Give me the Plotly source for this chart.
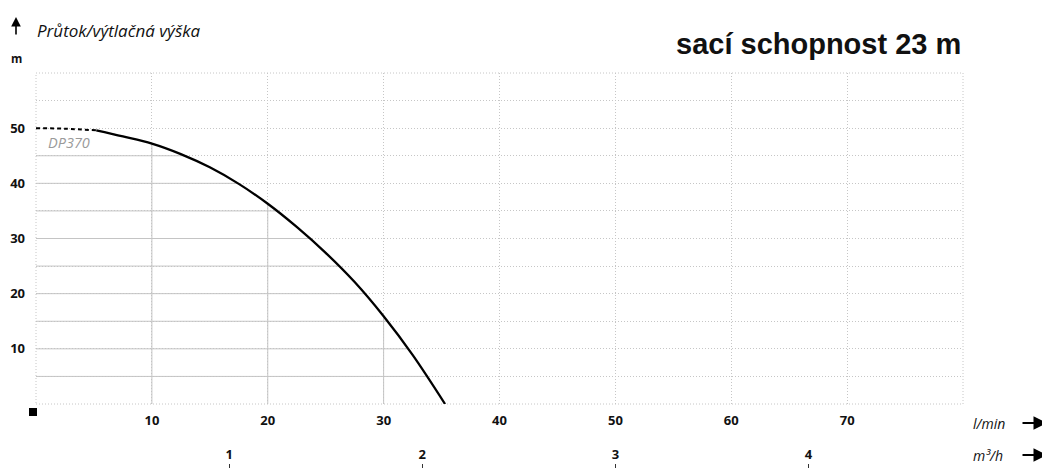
import numpy as np
import plotly.graph_objects as go

# ---- data ----
flow_dashed = [0, 2.5, 5.2]
head_dashed = [50.0, 49.9, 49.6]
flow_curve = [5.2, 7.5, 10, 12.5, 15, 17.5, 20, 22.5, 25, 27.5, 30, 32.5, 35.3]
head_curve = [49.6, 48.5, 47.2, 45.3, 42.9, 39.9, 36.3, 32.1, 27.4, 22.1, 15.9, 8.9, 0.0]
x_ticks = [0, 10, 20, 30, 40, 50, 60, 70, 80]
x_labels = ["", "10", "20", "30", "40", "50", "60", "70", ""]
y_ticks = [0, 10, 20, 30, 40, 50, 60]
y_labels = ["", "10", "20", "30", "40", "50", ""]
m3h_ticks = [1, 2, 3, 4]
m3h_labels = ["1", "2", "3", "4"]
lmin_per_m3h = 1000 / 60
solid_grid_y = [5, 10, 15, 20, 25, 30, 35, 40, 45]
solid_grid_x = [10, 20, 30]
series_name = "DP370"
title_text = "sací schopnost 23 m"

# page has an 8px body margin; positions below are given in page pixels
OFF = 8
W, H = 1050 - OFF, 468 - OFF
plot_left, plot_right, plot_top, plot_bottom = 36, 963, 73, 404
L = plot_left - OFF
T = plot_top - OFF
R = W - (plot_right - OFF)
B = 0
plot_w = W - L - R
plot_h = H - T - B
y_dom0 = (H - (plot_bottom - OFF)) / plot_h


def px(xp, yp):
    return (xp - OFF - L) / plot_w, (H - B - (yp - OFF)) / plot_h


fig = go.Figure()

grid_solid = "#c4c4c4"
grid_dot = "#c6c6c6"
dot_pattern = "1px,2px"
all_x = flow_dashed + flow_curve[1:]
all_y = head_dashed + head_curve[1:]
# solid grid segments under the curve
for yv in solid_grid_y:
    xe = float(np.interp(yv, all_y[::-1], all_x[::-1]))
    fig.add_trace(go.Scatter(x=[0, xe], y=[yv, yv], mode="lines",
                             line=dict(color=grid_solid, width=1),
                             hoverinfo="skip", showlegend=False))
for xv in solid_grid_x:
    ye = float(np.interp(xv, all_x, all_y))
    fig.add_trace(go.Scatter(x=[xv, xv], y=[0, ye], mode="lines",
                             line=dict(color=grid_solid, width=1),
                             hoverinfo="skip", showlegend=False))

fig.add_trace(go.Scatter(x=flow_dashed, y=head_dashed, mode="lines",
                         line=dict(color="black", width=2, dash="4px,3px", shape="spline"),
                         hoverinfo="skip", showlegend=False))
fig.add_trace(go.Scatter(x=flow_curve, y=head_curve, mode="lines", name=series_name,
                         line=dict(color="black", width=2.3, shape="spline", smoothing=1),
                         showlegend=False))
# invisible trace to activate secondary axis
fig.add_trace(go.Scatter(x=[0, 80 / lmin_per_m3h], y=[0, 0], xaxis="x2", mode="lines",
                         line=dict(width=0), hoverinfo="skip", showlegend=False))

tickfont = dict(family="Open Sans", size=13, color="#111", weight="bold")

fig.update_layout(
    width=W, height=H,
    margin=dict(l=L, r=R, t=T, b=B),
    plot_bgcolor="white", paper_bgcolor="white",
    xaxis=dict(range=[0, 80], tickmode="array", tickvals=x_ticks, ticktext=x_labels,
               showgrid=True, gridcolor=grid_dot, griddash=dot_pattern, gridwidth=1,
               zeroline=False, showline=False, ticks="", tickfont=tickfont,
               ticklabelstandoff=7, anchor="y"),
    yaxis=dict(range=[0, 60], domain=[y_dom0, 1], tickmode="array", tickvals=y_ticks,
               ticktext=y_labels, showgrid=True, gridcolor=grid_dot, griddash=dot_pattern,
               gridwidth=1, zeroline=False, showline=False, ticks="", tickfont=tickfont,
               ticklabelstandoff=10,
               minor=dict(dtick=5, tick0=0, showgrid=True, gridcolor=grid_dot,
                          griddash=dot_pattern, gridwidth=1)),
    xaxis2=dict(range=[0, 80 / lmin_per_m3h], overlaying="x", side="top", anchor="free",
                position=0, tickmode="array", tickvals=m3h_ticks, ticktext=m3h_labels,
                showgrid=False, zeroline=False, showline=False, ticks="outside",
                ticklen=4, tickwidth=1, tickcolor="#333", tickfont=tickfont),
    showlegend=False,
)

# dotted frame around the plotting area
fig.add_shape(type="rect", xref="x domain", yref="y domain", x0=0, y0=0, x1=1, y1=1,
              line=dict(color=grid_dot, width=1, dash=dot_pattern), layer="below")

ann = []
def text_at(xp, yp, text, size, color="#111", italic=False, bold=False,
            family="Open Sans", xanchor="left"):
    x, y = px(xp, yp)
    ann.append(dict(x=x, y=y, xref="paper", yref="paper", text=text, showarrow=False,
                    xanchor=xanchor, yanchor="middle",
                    font=dict(family=family, size=size, color=color,
                              style="italic" if italic else "normal",
                              weight="bold" if bold else "normal")))

def arrow(x1, y1, x0, y0, width=1.5, size=1.1):
    x, y = px(x1, y1)
    ann.append(dict(x=x, y=y, xref="paper", yref="paper", ax=x0 - x1, ay=y0 - y1,
                    axref="pixel", ayref="pixel", showarrow=True, arrowhead=2,
                    arrowsize=size, arrowwidth=width, arrowcolor="black", text=""))

text_at(35, 30, "Průtok/výtlačná výška", 17, italic=True)
text_at(16, 58, "m", 11.5, bold=True, xanchor="center")
text_at(46, 143, series_name, 14.5, color="#9a9a9a", italic=True)
text_at(963, 44, title_text, 29, bold=True, family="Liberation Sans", xanchor="right")
text_at(971, 423, "l/min", 14, italic=True)
text_at(971, 455, "m³/h", 14, italic=True)
arrow(16, 17, 16, 36, width=1.6, size=1.2)
arrow(1047, 423, 1021, 423, width=1.8, size=1.5)
arrow(1047, 455, 1021, 455, width=1.8, size=1.5)
fig.update_layout(annotations=ann)

sx0, sy0 = px(29, 416)
sx1, sy1 = px(37, 408)
fig.add_shape(type="rect", xref="paper", yref="paper", x0=sx0, y0=sy0, x1=sx1, y1=sy1,
              fillcolor="black", line=dict(width=0))

fig.write_html("out.html")
